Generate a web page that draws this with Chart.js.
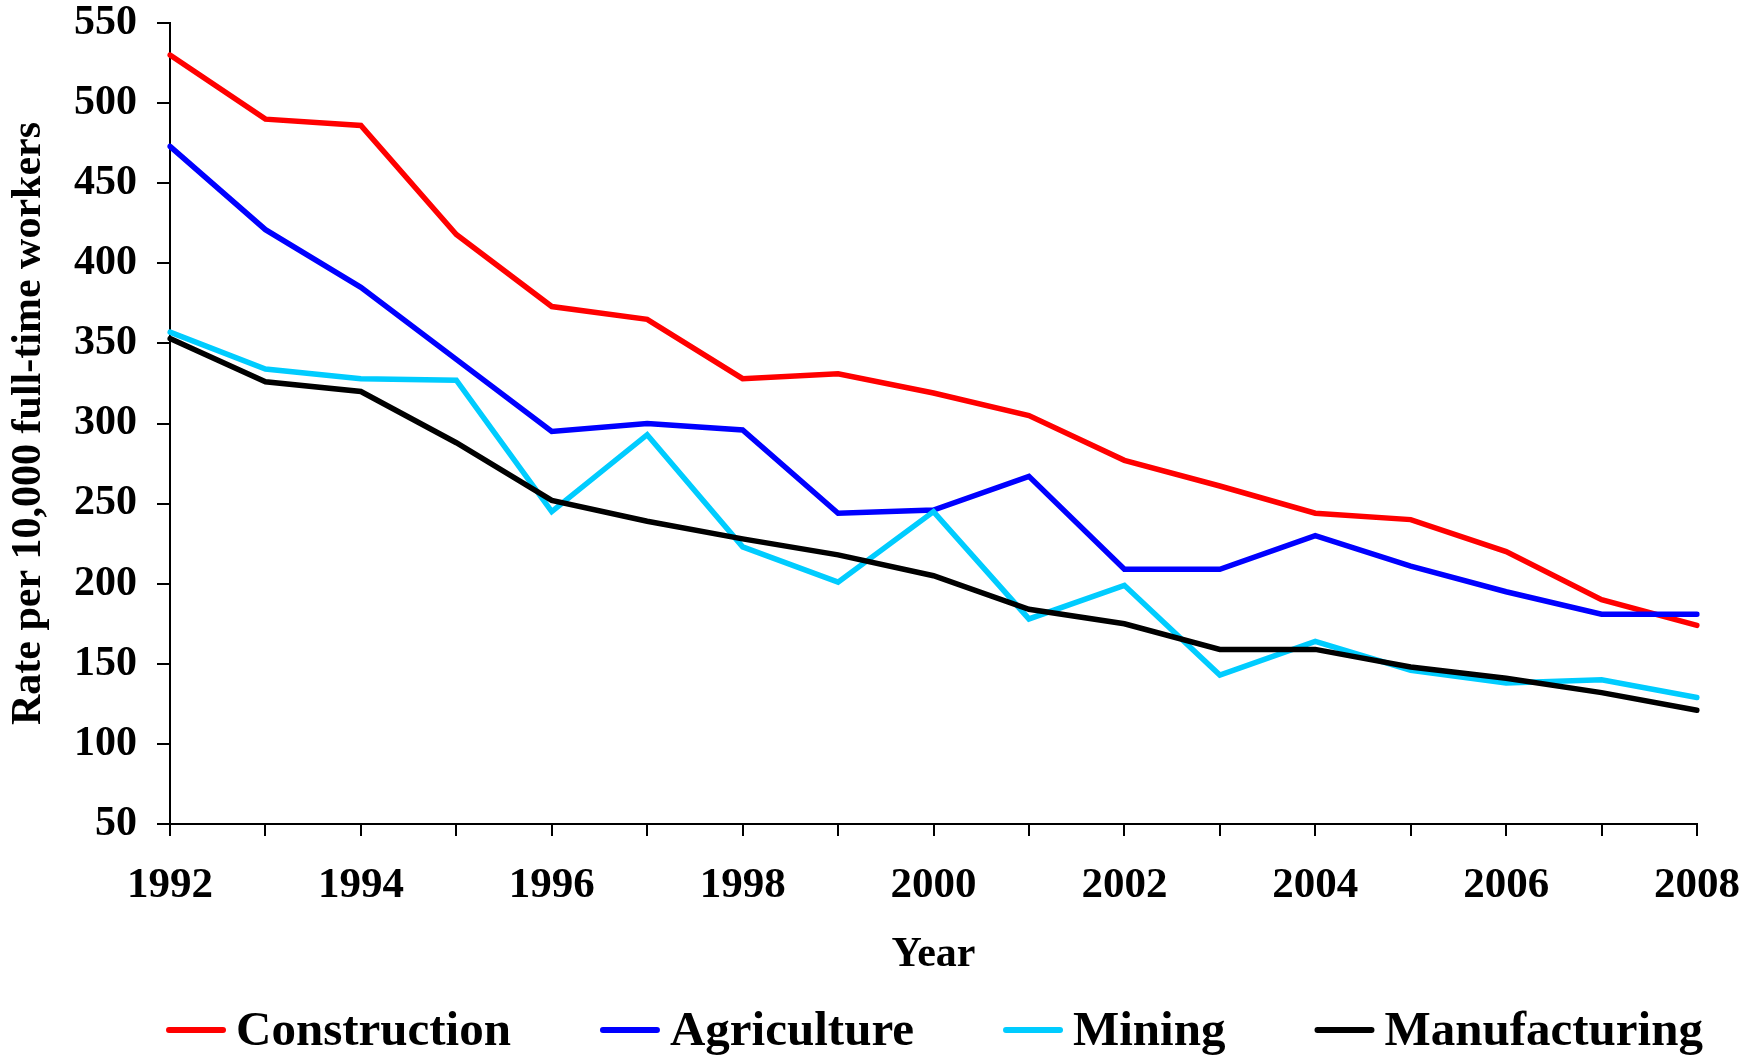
<!DOCTYPE html>
<html>
<head>
<meta charset="utf-8">
<title>Rate per 10,000 full-time workers</title>
<script src="https://cdn.jsdelivr.net/npm/chart.js@4/dist/chart.umd.min.js"></script>
<style>
    body { margin: 0; background: #fff; }
    #myChart { display: block; }
</style>
</head>
<body>
<canvas id="myChart" width="1760" height="1055"></canvas>
<script>
const years = ['1992', '1993', '1994', '1995', '1996', '1997', '1998', '1999', '2000',
    '2001', '2002', '2003', '2004', '2005', '2006', '2007', '2008'];
const construction = [530, 490, 486, 418, 373, 365, 328, 331, 319, 305, 277, 261, 244, 240, 220, 190, 174];
const agriculture = [473, 421, 385, 340, 295, 300, 296, 244, 246, 267, 209, 209, 230, 211, 195, 181, 181];
const mining = [357, 334, 328, 327, 245, 293, 223, 201, 245, 178, 199, 143, 164, 146, 138, 140, 129];
const manufacturing = [353, 326, 320, 288, 252, 239, 228, 218, 205, 184, 175, 159, 159, 148, 141, 132, 121];

const serif = 'Liberation Serif';
var ctx = document.getElementById('myChart').getContext('2d');

const makeLine = (label, data, color, order) => {
    return {
        label: label,
        data: data,
        borderColor: color,
        backgroundColor: color,
        borderWidth: 5.5,
        borderCapStyle: 'round',
        pointRadius: 0,
        tension: 0,
        fill: false,
        order: order
    };
};

// legend drawn by hand: short thick swatch, small gap, big bold text
const bottomLegend = {
    id: 'bottomLegend',
    afterDraw: (chart) => {
        const c = chart.ctx;
        const area = chart.chartArea;
        const y = chart.scales.x.bottom + 50;
        const swatch = 60, gap = 10, spacing = 89;
        c.save();
        c.font = 'bold 49px "' + serif + '"';
        c.textBaseline = 'middle';
        const items = chart.data.datasets.map(ds => ({ ds: ds, w: c.measureText(ds.label).width }));
        let total = 0;
        items.forEach(it => { total += swatch + gap + it.w; });
        total += spacing * (items.length - 1);
        let x = (area.left + area.right) / 2 - total / 2 + 1;
        items.forEach(it => {
            c.strokeStyle = it.ds.borderColor;
            c.lineWidth = 6;
            c.lineCap = 'round';
            c.beginPath();
            c.moveTo(x + 3, y);
            c.lineTo(x + swatch - 3, y);
            c.stroke();
            c.fillStyle = '#000';
            c.fillText(it.ds.label, x + swatch + gap, y + 2);
            x += swatch + gap + it.w + spacing;
        });
        c.restore();
    }
};

var myChart = new Chart(ctx, {
    type: 'line',
    data: {
        labels: years,
        datasets: [
            makeLine('Construction', construction, '#ff0000', 4),
            makeLine('Agriculture', agriculture, '#0000ff', 3),
            makeLine('Mining', mining, '#00ccff', 2),
            makeLine('Manufacturing', manufacturing, '#000000', 1)
        ]
    },
    options: {
        responsive: false,
        animation: false,
        layout: {
            padding: { left: 0, top: 23, right: 63, bottom: 75 }
        },
        plugins: {
            legend: { display: false },
            tooltip: { enabled: false }
        },
        scales: {
            x: {
                // the 2008 label fits inside the right padding
                afterFit: (scale) => { scale.paddingRight = 0; scale.paddingLeft = 0; },
                grid: {
                    drawOnChartArea: false,
                    drawTicks: true,
                    tickLength: 12,
                    color: '#000',
                    lineWidth: 2
                },
                border: { display: true, color: '#000', width: 2 },
                ticks: {
                    autoSkip: false,
                    maxRotation: 0,
                    padding: 24,
                    color: '#000',
                    font: { family: serif, size: 43, weight: 'bold' },
                    callback: function (value, index) {
                        return index % 2 === 0 ? this.getLabelForValue(value) : '';
                    }
                },
                title: {
                    display: true,
                    text: 'Year',
                    color: '#000',
                    padding: { top: -6, bottom: 0 },
                    font: { family: serif, size: 42, weight: 'bold' }
                }
            },
            y: {
                min: 50,
                max: 550,
                afterFit: (scale) => { scale.width = 170; },
                grid: {
                    drawOnChartArea: false,
                    drawTicks: true,
                    tickLength: 13,
                    color: '#000',
                    lineWidth: 2
                },
                border: { display: true, color: '#000', width: 2 },
                ticks: {
                    stepSize: 50,
                    padding: 20,
                    color: '#000',
                    font: { family: serif, size: 42, weight: 'bold', lineHeight: 0.1 }
                },
                title: {
                    display: true,
                    text: 'Rate per 10,000 full-time workers',
                    color: '#000',
                    padding: { top: 4, bottom: 0 },
                    font: { family: serif, size: 42, weight: 'bold' }
                }
            }
        }
    },
    plugins: [bottomLegend]
});
</script>
</body>
</html>
